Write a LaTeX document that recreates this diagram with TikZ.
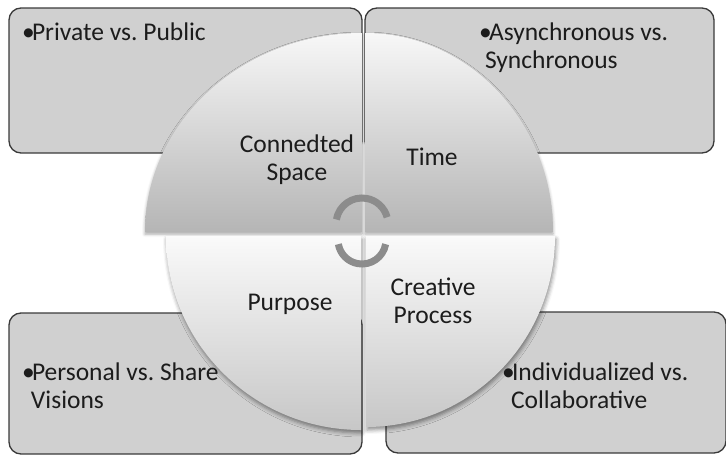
\documentclass[tikz,border=0pt]{standalone}
\usepackage{fontspec}
\setmainfont{Carlito}
\usetikzlibrary{shadows.blur}
\frenchspacing

\definecolor{boxfill}{HTML}{D0D0D0}
\definecolor{boxline}{HTML}{3A3A3A}
\definecolor{arcgray}{HTML}{8C8C8C}
\definecolor{ink}{HTML}{1C1C1C}

% bullet with a fixed advance, used at the start of each list item
\newcommand\itembul{\makebox[10pt][l]{•}}

\begin{document}
\begin{tikzpicture}[x=1pt,y=-1pt,
  every node/.style={inner sep=0pt, outer sep=0pt, text=ink,
    font=\fontsize{25.5}{28}\selectfont},
  infobox/.style={fill=boxfill, draw=boxline, line width=1.3pt,
    rounded corners=12pt, anchor=north west},
  upperwedge/.style={top color=white!97!black, bottom color=white!71!black,
    blur shadow={shadow xshift=0pt, shadow yshift=-2pt,
      shadow blur radius=3pt, shadow opacity=35}},
  lowerwedge/.style={top color=white!98!black, bottom color=white!78!black,
    blur shadow={shadow xshift=1pt, shadow yshift=-3pt,
      shadow blur radius=4pt, shadow opacity=45}},
  cyclearc/.style={draw=arcgray, line width=7pt},
  itemtext/.style={anchor=base west, align=left},
  wedgelabel/.style={anchor=base, align=center}
]
\useasboundingbox (0,0) rectangle (726,455);

% the four corner boxes
\node[infobox, minimum width=353pt, minimum height=145pt] (boxTL) at (9,8) {};
\node[infobox, minimum width=349pt, minimum height=145pt] (boxTR) at (365,8) {};
\node[infobox, minimum width=353pt, minimum height=141pt] (boxBL) at (9,313) {};
\node[infobox, minimum width=340pt, minimum height=141pt] (boxBR) at (386,312) {};

% the four quarter wedges of the central disc
\path[upperwedge] (362,232) -- (145,232)
  arc[start angle=180, end angle=270, x radius=217, y radius=199] -- cycle;
\path[upperwedge] (365,232) -- (365,33)
  arc[start angle=270, end angle=360, x radius=188, y radius=199] -- cycle;
\path[lowerwedge] (361,236) -- (166,236)
  arc[start angle=180, end angle=90, x radius=195, y radius=194] -- cycle;
\path[lowerwedge] (366,236) -- (555,236)
  arc[start angle=0, end angle=90, x radius=189, y radius=191] -- cycle;

% list items inside the boxes (set over the wedges);
% a multi-line node sits on the baseline of its last line
\node[itemtext] (txtTL) at (22,40) {\itembul Private vs. Public};
\node[itemtext] (txtTR) at (479,68) {\itembul Asynchronous vs.\\\hspace*{6pt}Synchronous};
\node[itemtext] (txtBL) at (22,408) {\itembul Personal vs. Share\\\hspace*{9pt}Visions};
\node[itemtext] (txtBR) at (502,408) {\itembul Individualized vs.\\\hspace*{9pt}Collaborative};

% wedge labels
\node[wedgelabel] (lblSpace) at (297,180) {Connedted\\Space};
\node[wedgelabel] (lblTime) at (432,165) {Time};
\node[wedgelabel] (lblPurpose) at (290,310) {Purpose};
\node[wedgelabel] (lblProcess) at (433,323) {Creative\\Process};

% the two cycle arcs in the middle
\coordinate (hub) at (362,232);
\draw[cyclearc] ([shift={(0,-8)}]hub) ++(190:26 and 26)
  arc[start angle=190, end angle=345, radius=26];
\draw[cyclearc] ([shift={(0,8)}]hub) ++(10:24 and 24)
  arc[start angle=10, end angle=170, radius=24];
\end{tikzpicture}
\end{document}
